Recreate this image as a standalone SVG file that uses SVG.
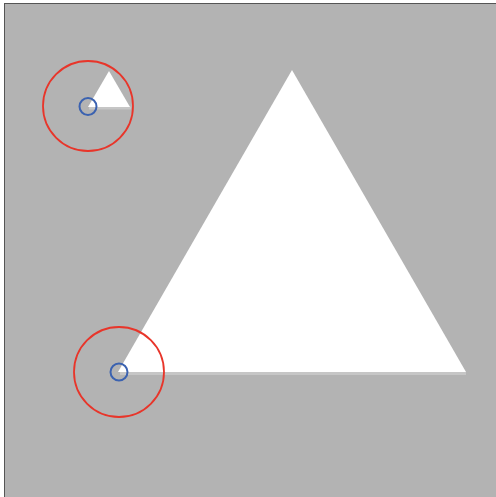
<svg xmlns="http://www.w3.org/2000/svg" width="496" height="497" viewBox="0 0 496 497">
<style>
.tri{fill:#ffffff}
.shadow{fill:none;stroke:#c6c6c6;stroke-width:3}
.red{fill:none;stroke:#e8352a;stroke-width:1.8}
.blue{fill:none;stroke:#3b62b0;stroke-width:2}
</style>
<rect x="0" y="0" width="496" height="497" fill="#ffffff"/>
<rect x="4.5" y="3.5" width="520" height="520" fill="#b3b3b3" stroke="#555555" stroke-width="1"/>
<g id="big-triangle">
<line class="shadow" x1="120" y1="373.5" x2="466" y2="373.5"/>
<polygon class="tri" points="118,372 292,70 466,372"/>
</g>
<g id="small-triangle">
<line class="shadow" x1="89" y1="108" x2="131" y2="108"/>
<polygon class="tri" points="88,107 109,71 130,107"/>
</g>
<g id="red-circle-small"><circle class="red" cx="88" cy="106" r="45"/></g>
<g id="red-circle-big"><circle class="red" cx="119" cy="372" r="45"/></g>
<g id="blue-circle-small"><circle class="blue" cx="88" cy="106.5" r="8.5"/></g>
<g id="blue-circle-big"><circle class="blue" cx="119" cy="372" r="8.5"/></g>
<g id="connectors"/>
</svg>
